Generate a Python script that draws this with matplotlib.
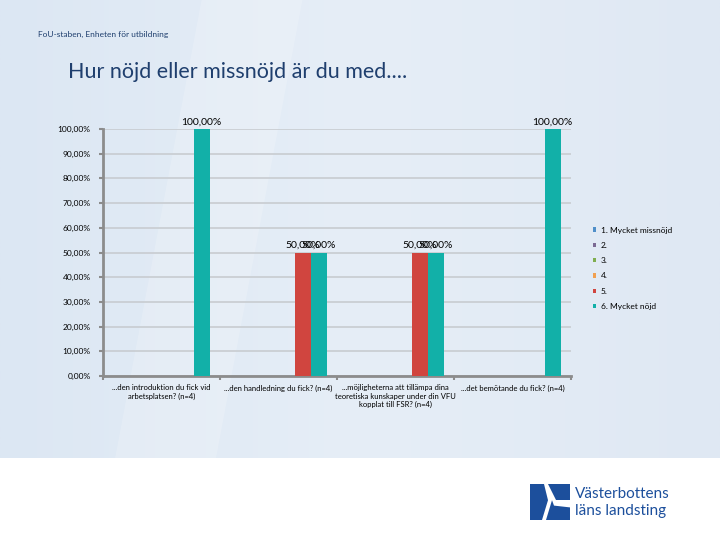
import numpy as np
import matplotlib.pyplot as plt
from matplotlib.patches import Polygon

plt.rcParams['font.family'] = ['Lato', 'DejaVu Sans']

# data
categories = ["...den introduktion du fick vid\narbetsplatsen? (n=4)",
              "...den handledning du fick? (n=4)",
              "...möjligheterna att tillämpa dina\nteoretiska kunskaper under din VFU\nkopplat till FSR? (n=4)",
              "...det bemötande du fick? (n=4)"]
series_names = ["1. Mycket missnöjd", "2.", "3.", "4.", "5.", "6. Mycket nöjd"]
s1 = [0, 0, 0, 0]
s2 = [0, 0, 0, 0]
s3 = [0, 0, 0, 0]
s4 = [0, 0, 0, 0]
s5 = [0, 0.5, 0.5, 0]
s6 = [1.0, 0.5, 0.5, 1.0]
yticks = [0, 0.1, 0.2, 0.3, 0.4, 0.5, 0.6, 0.7, 0.8, 0.9, 1.0]

colors = ['#4f8fc9', '#7b6a93', '#7fae4f', '#f0a050', '#d0453f', '#12b0a8']

fig = plt.figure(figsize=(7.2, 5.4), dpi=100)
fig.patch.set_facecolor('white')

# bakgrund
bg = fig.add_axes([0, 0, 1, 1], zorder=-10)
bg.set_xlim(0, 1)
bg.set_ylim(0, 1)
bg.axis('off')
grad = np.linspace(0, 1, 256).reshape(1, -1)
bg.imshow(grad, extent=[0, 1, 1 - 458 / 540, 1], aspect='auto',
          cmap=plt.matplotlib.colors.LinearSegmentedColormap.from_list('b', ['#dce7f3', '#e6eef7', '#dfe8f3']))
bg.add_patch(Polygon([[0.28, 1], [0.42, 1], [0.30, 1 - 458 / 540], [0.16, 1 - 458 / 540]],
                     closed=True, color='white', alpha=0.18, lw=0))

fig.text(38 / 720, 1 - 34 / 540, "FoU-staben, Enheten för utbildning", fontsize=6, color='#1f3f6e', va='center')
fig.text(68 / 720, 1 - 72 / 540, "Hur nöjd eller missnöjd är du med....", fontsize=15.5, color='#1f3f6e', va='center')

ax = fig.add_axes([103 / 720, 1 - 376 / 540, 468 / 720, 247 / 540])
ax.set_facecolor('none')

allseries = [s1, s2, s3, s4, s5, s6]
x = np.arange(len(categories))
w = 0.137
for i, vals in enumerate(allseries):
    pos = x + (i - 2.5) * w
    ax.bar(pos, vals, w, color=colors[i], label=series_names[i], zorder=3)
    for p, v in zip(pos, vals):
        if v > 0:
            ax.text(p, v + 0.01, ("%.2f%%" % (v * 100)).replace('.', ','),
                    ha='center', va='bottom', fontsize=7.5, color='black')

ax.set_xlim(-0.5, len(categories) - 0.5)
ax.set_ylim(0, 1.0)
ax.set_yticks(yticks)
ax.set_yticklabels([("%.2f%%" % (t * 100)).replace('.', ',') for t in yticks], fontsize=6)
ax.set_xticks(x)
ax.set_xticklabels(categories, fontsize=5.5)
ax.set_xticks(np.arange(-0.5, len(categories)), minor=True)
ax.tick_params(axis='x', which='major', length=0, pad=6)
ax.tick_params(axis='x', which='minor', length=3, color='#8c8c8c', width=1.5)
ax.tick_params(axis='y', length=3, color='#8c8c8c', width=1.5, pad=6)
ax.grid(axis='y', color='#c8ccd0', lw=1.2, zorder=0)
for s in ['top', 'right']:
    ax.spines[s].set_visible(False)
for s in ['left', 'bottom']:
    ax.spines[s].set_color('#8c8c8c')
    ax.spines[s].set_linewidth(2)

ax.legend(loc='upper left', bbox_to_anchor=(482 / 468, (376 - 219) / 247), frameon=False,
          fontsize=6, handlelength=0.4, handleheight=0.4, handletextpad=0.6, labelspacing=1.0)

# logga
lg = fig.add_axes([530 / 720, 1 - 520 / 540, 40 / 720, 36 / 540])
lg.set_xlim(0, 1)
lg.set_ylim(0, 1)
lg.axis('off')
lg.add_patch(Polygon([[0, 0], [0.3, 0], [0.45, 0.55], [0.35, 1], [0, 1]], color='#1c4f9c', lw=0))
lg.add_patch(Polygon([[0.4, 0], [1, 0], [1, 0.35], [0.6, 0.4], [0.55, 0.55]], color='#1c4f9c', lw=0))
lg.add_patch(Polygon([[0.45, 1], [1, 1], [1, 0.55], [0.65, 0.55]], color='#1c4f9c', lw=0))
fig.text(575 / 720, 1 - 494 / 540, "Västerbottens", fontsize=11, color='#1c4f9c', va='center')
fig.text(575 / 720, 1 - 511 / 540, "läns landsting", fontsize=11, color='#1c4f9c', va='center')

fig.savefig('out.png', dpi=100)
